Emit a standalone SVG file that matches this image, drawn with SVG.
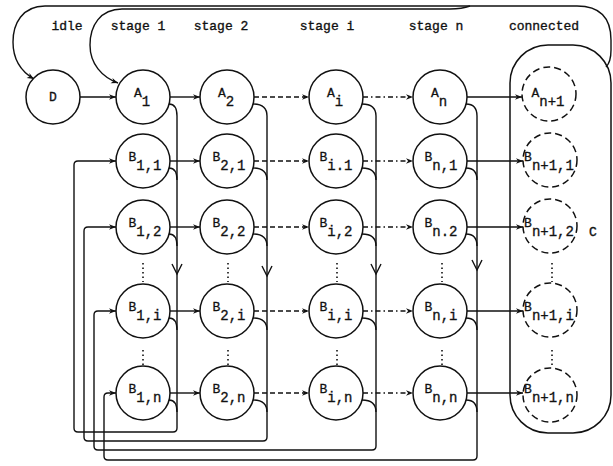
<svg xmlns="http://www.w3.org/2000/svg" width="613" height="466" viewBox="0 0 613 466">
<style>
.n{fill:#fff;stroke:#111;stroke-width:1.5}
.nd{fill:none;stroke:#111;stroke-width:1.5;stroke-dasharray:7 4}
.c{fill:none;stroke:#111;stroke-width:1.4}
.d1{stroke-dasharray:5 3}
.d2{stroke-dasharray:5 3 1.5 3}
.dots{fill:none;stroke:#111;stroke-width:1.6;stroke-dasharray:1.5 3}
.t{font-family:"Liberation Mono","DejaVu Sans Mono",monospace;font-size:13px;fill:#111;stroke:#111;stroke-width:0.35}
.l{font-family:"Liberation Mono","DejaVu Sans Mono",monospace;font-size:13px;fill:#111;stroke:#111;stroke-width:0.3;text-anchor:middle}
.s{font-size:14px}
</style>
<defs>
<marker id="ah" viewBox="0 0 10 10" refX="10" refY="5" markerWidth="9" markerHeight="7" markerUnits="userSpaceOnUse" orient="auto">
<path d="M0,1 L10,5 L0,9 L3,5 z" fill="#111"/>
</marker>
</defs>
<rect width="613" height="466" fill="#fff"/>

<g id="stage-labels" class="t" text-anchor="middle">
<text x="67" y="30">idle</text>
<text x="138" y="30">stage 1</text>
<text x="221" y="30">stage 2</text>
<text x="327" y="30">stage i</text>
<text x="436" y="30">stage n</text>
<text x="544" y="30">connected</text>
</g>

<g id="C">
<rect x="510" y="45" width="101" height="388" rx="38" class="c" style="stroke-width:1.5"/>
<text x="593" y="236" class="t" text-anchor="middle">C</text>
</g>

<g id="connectors">
<!-- top loops -->
<path class="c" d="M606,67 Q611,62 611,50 L611,40 Q611,6 577,6 L45,6 C22,6 13,24 13,42 C13,60 22,72 34,79" marker-end="url(#ah)"/>
<path class="c" d="M470,6 Q462,9 450,9 L122,9 C100,9 90,26 90,45 C90,64 102,77 118,83" marker-end="url(#ah)"/>
<!-- row A -->
<path class="c" d="M80,97 L116,97" marker-end="url(#ah)"/>
<path class="c" d="M170,97 L200,97" marker-end="url(#ah)"/>
<path class="c d1" d="M254,97 L309,97" marker-end="url(#ah)"/>
<path class="c d2" d="M363,97 L413,97" marker-end="url(#ah)"/>
<path class="c" d="M467,97 L522,97" marker-end="url(#ah)"/>
<!-- row 1 -->
<path class="c" d="M170,161 L200,161" marker-end="url(#ah)"/>
<path class="c d1" d="M254,161 L309,161" marker-end="url(#ah)"/>
<path class="c d2" d="M363,161 L413,161" marker-end="url(#ah)"/>
<path class="c" d="M467,161 L523,161" marker-end="url(#ah)"/>
<!-- row 2 -->
<path class="c" d="M170,227 L200,227" marker-end="url(#ah)"/>
<path class="c d1" d="M254,227 L309,227" marker-end="url(#ah)"/>
<path class="c d2" d="M363,227 L413,227" marker-end="url(#ah)"/>
<path class="c" d="M467,227 L523,227" marker-end="url(#ah)"/>
<!-- row i -->
<path class="c" d="M170,311 L200,311" marker-end="url(#ah)"/>
<path class="c d1" d="M254,311 L309,311" marker-end="url(#ah)"/>
<path class="c d2" d="M363,311 L413,311" marker-end="url(#ah)"/>
<path class="c" d="M467,311 L523,311" marker-end="url(#ah)"/>
<!-- row n -->
<path class="c" d="M170,393 L200,393" marker-end="url(#ah)"/>
<path class="c d1" d="M254,393 L309,393" marker-end="url(#ah)"/>
<path class="c d2" d="M363,393 L413,393" marker-end="url(#ah)"/>
<path class="c" d="M467,393 L523,393" marker-end="url(#ah)"/>

<!-- column loops -->
<path class="c" d="M177,116 L177,428 Q177,432 173,432 L78,432 Q74,432 74,428 L74,165 Q74,161 78,161 L116,161" marker-end="url(#ah)"/>
<path class="c" d="M267,116 L267,437 Q267,441 263,441 L88,441 Q84,441 84,437 L84,231 Q84,227 88,227 L116,227" marker-end="url(#ah)"/>
<path class="c" d="M376,116 L376,446 Q376,450 372,450 L98,450 Q94,450 94,446 L94,315 Q94,311 98,311 L116,311" marker-end="url(#ah)"/>
<path class="c" d="M477,116 L477,456 Q477,460 473,460 L108,460 Q104,460 104,456 L104,397 Q104,393 108,393 L116,393" marker-end="url(#ah)"/>

<!-- hooks from nodes to column lines -->
<path class="c" d="M169,104 C174,104 177,108 177,116 M169,168 C174,168 177,172 177,180 M169,234 C174,234 177,238 177,246 M169,318 C174,318 177,322 177,330 M169,400 C174,400 177,404 177,412"/>
<path class="c" d="M253,104 C263,104 267,108 267,116 M253,168 C263,168 267,172 267,180 M253,234 C263,234 267,238 267,246 M253,318 C263,318 267,322 267,330 M253,400 C263,400 267,404 267,412"/>
<path class="c" d="M362,104 C372,104 376,108 376,116 M362,168 C372,168 376,172 376,180 M362,234 C372,234 376,238 376,246 M362,318 C372,318 376,322 376,330 M362,400 C372,400 376,404 376,412"/>
<path class="c" d="M466,104 C474,104 477,108 477,116 M466,168 C474,168 477,172 477,180 M466,234 C474,234 477,238 477,246 M466,318 C474,318 477,322 477,330 M466,400 C474,400 477,404 477,412"/>

<!-- downward chevrons -->
<path class="c" d="M172,264 L177,274 L182,264 M262,266 L267,276 L272,266 M371,264 L376,274 L381,264 M472,260 L477,270 L482,260"/>
</g>

<g id="ellipses" class="dots">
<path d="M143,263 L143,282 M143,350 L143,366"/>
<path d="M228,263 L228,282 M228,350 L228,366"/>
<path d="M337,263 L337,282 M337,350 L337,366"/>
<path d="M442,263 L442,282 M442,350 L442,366"/>
<path d="M552,263 L552,282 M552,350 L552,366"/>
</g>

<g id="D"><circle cx="53" cy="97" r="27" class="n"/><text x="53" y="101" class="l">D</text></g>

<g id="A1"><circle cx="143" cy="97" r="27" class="n"/><text x="142" y="97" class="l">A<tspan class="s" dy="9">1</tspan></text></g>
<g id="A2"><circle cx="227" cy="97" r="27" class="n"/><text x="226" y="97" class="l">A<tspan class="s" dy="9">2</tspan></text></g>
<g id="Ai"><circle cx="336" cy="97" r="27" class="n"/><text x="335" y="97" class="l">A<tspan class="s" dy="9">i</tspan></text></g>
<g id="An"><circle cx="440" cy="97" r="27" class="n"/><text x="439" y="97" class="l">A<tspan class="s" dy="9">n</tspan></text></g>
<g id="An1"><circle cx="549" cy="94" r="27" class="nd"/><text x="548" y="97" class="l">A<tspan class="s" dy="9">n+1</tspan></text></g>

<g id="B11"><circle cx="143" cy="161" r="27" class="n"/><text x="145" y="161" class="l">B<tspan class="s" dy="9">1,1</tspan></text></g>
<g id="B21"><circle cx="227" cy="161" r="27" class="n"/><text x="229" y="161" class="l">B<tspan class="s" dy="9">2,1</tspan></text></g>
<g id="Bi1"><circle cx="336" cy="161" r="27" class="n"/><text x="336" y="161" class="l">B<tspan class="s" dy="9">i.1</tspan></text></g>
<g id="Bn1"><circle cx="440" cy="161" r="27" class="n"/><text x="441" y="161" class="l">B<tspan class="s" dy="9">n,1</tspan></text></g>
<g id="Bn11"><circle cx="550" cy="160" r="27" class="nd"/><text x="549" y="161" class="l">B<tspan class="s" dy="9">n+1,1</tspan></text></g>

<g id="B12"><circle cx="143" cy="227" r="27" class="n"/><text x="145" y="227" class="l">B<tspan class="s" dy="9">1,2</tspan></text></g>
<g id="B22"><circle cx="227" cy="227" r="27" class="n"/><text x="229" y="227" class="l">B<tspan class="s" dy="9">2,2</tspan></text></g>
<g id="Bi2"><circle cx="336" cy="227" r="27" class="n"/><text x="336" y="227" class="l">B<tspan class="s" dy="9">i,2</tspan></text></g>
<g id="Bn2"><circle cx="440" cy="227" r="27" class="n"/><text x="441" y="227" class="l">B<tspan class="s" dy="9">n.2</tspan></text></g>
<g id="Bn12"><circle cx="550" cy="226" r="27" class="nd"/><text x="549" y="227" class="l">B<tspan class="s" dy="9">n+1,2</tspan></text></g>

<g id="B1i"><circle cx="143" cy="311" r="27" class="n"/><text x="145" y="311" class="l">B<tspan class="s" dy="9">1,i</tspan></text></g>
<g id="B2i"><circle cx="227" cy="311" r="27" class="n"/><text x="229" y="311" class="l">B<tspan class="s" dy="9">2,i</tspan></text></g>
<g id="Bii"><circle cx="336" cy="311" r="27" class="n"/><text x="336" y="311" class="l">B<tspan class="s" dy="9">i,i</tspan></text></g>
<g id="Bni"><circle cx="440" cy="311" r="27" class="n"/><text x="441" y="311" class="l">B<tspan class="s" dy="9">n,i</tspan></text></g>
<g id="Bn1i"><circle cx="550" cy="310" r="27" class="nd"/><text x="549" y="311" class="l">B<tspan class="s" dy="9">n+1,i</tspan></text></g>

<g id="B1n"><circle cx="143" cy="393" r="27" class="n"/><text x="145" y="393" class="l">B<tspan class="s" dy="9">1,n</tspan></text></g>
<g id="B2n"><circle cx="227" cy="393" r="27" class="n"/><text x="229" y="393" class="l">B<tspan class="s" dy="9">2,n</tspan></text></g>
<g id="Bin"><circle cx="336" cy="393" r="27" class="n"/><text x="336" y="393" class="l">B<tspan class="s" dy="9">i,n</tspan></text></g>
<g id="Bnn"><circle cx="440" cy="393" r="27" class="n"/><text x="441" y="393" class="l">B<tspan class="s" dy="9">n,n</tspan></text></g>
<g id="Bn1n"><circle cx="550" cy="395" r="27" class="nd"/><text x="549" y="393" class="l">B<tspan class="s" dy="9">n+1,n</tspan></text></g>
</svg>
